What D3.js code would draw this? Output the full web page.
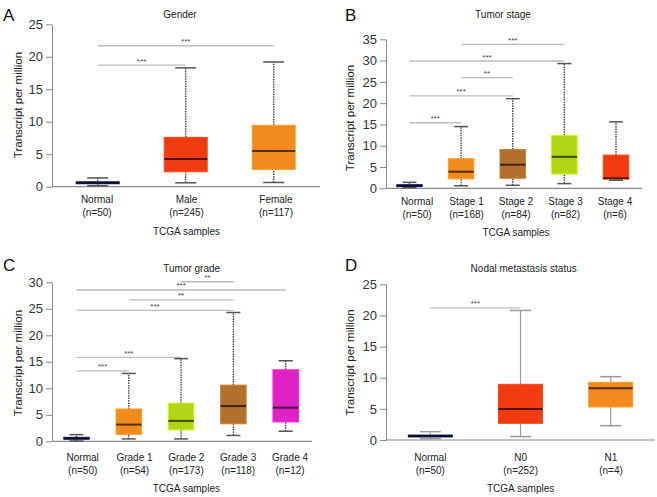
<!DOCTYPE html>
<html>
<head>
<meta charset="utf-8">
<script src="https://cdnjs.cloudflare.com/ajax/libs/d3/7.8.5/d3.min.js"></script>
<style>
body { margin: 0; background: #fff; }
svg { display: block; font-family: "Liberation Sans", Arial, sans-serif; }
</style>
</head>
<body>
<script>
// values: [min, q1, median, q3, max] per group
var genderGroups = ["Normal", "Male", "Female"];
var genderN = [50, 245, 117];
var genderStats = [[0.15, 0.45, 0.6, 0.75, 1.35], [0.6, 2.3, 4.25, 7.6, 18.3], [0.65, 2.65, 5.5, 9.45, 19.2]];
var genderSig = [[0, 2, 21.7, "***"], [0, 1, 18.7, "***"]];
var genderTicks = [0, 5, 10, 15, 20, 25];

var stageGroups = ["Normal", "Stage 1", "Stage 2", "Stage 3", "Stage 4"];
var stageN = [50, 168, 84, 82, 6];
var stageStats = [[0.15, 0.4, 0.6, 0.85, 1.4], [0.6, 2.2, 3.9, 6.95, 14.5], [0.7, 2.35, 5.55, 9.1, 21.05],
                  [1.1, 3.35, 7.4, 12.4, 29.3], [1.9, 2.2, 2.35, 7.8, 15.6]];
var stageSig = [[1, 3, 33.8, "***"], [0, 3, 29.9, "***"], [1, 2, 26, "**"], [0, 2, 21.7, "***"], [0, 1, 15.4, "***"]];
var stageTicks = [0, 5, 10, 15, 20, 25, 30, 35];

var gradeGroups = ["Normal", "Grade 1", "Grade 2", "Grade 3", "Grade 4"];
var gradeN = [50, 54, 173, 118, 12];
var gradeStats = [[0.06, 0.38, 0.57, 0.75, 1.26], [0.45, 1.3, 3.15, 6.1, 12.8], [0.45, 2.15, 3.85, 7.2, 15.6],
                  [1.1, 3.3, 6.65, 10.6, 24.3], [1.9, 3.65, 6.35, 13.5, 15.2]];
var gradeSig = [[2, 3, 30.1, "**"], [0, 4, 28.55, "***"], [1, 3, 26.7, "**"], [0, 3, 24.7, "***"],
                [0, 2, 15.85, "***"], [0, 1, 13.3, "***"]];
var gradeTicks = [0, 5, 10, 15, 20, 25, 30];

var nodalGroups = ["Normal", "N0", "N1"];
var nodalN = [50, 252, 4];
var nodalStats = [[0.2, 0.48, 0.64, 0.8, 1.34], [0.55, 2.68, 4.98, 8.94, 20.8], [2.3, 5.3, 8.3, 9.26, 10.17]];
var nodalSig = [[0, 1, 21.2, "***"]];
var nodalTicks = [0, 5, 10, 15, 20, 25];

// box colours
var navy = "#1c2670", red = "#f03c10", orange = "#f28a1e", brown = "#b36f2d", lime = "#b2d416", magenta = "#df22c4";
var genderColors = [navy, red, orange];
var stageColors = [navy, orange, brown, lime, red];
var gradeColors = [navy, orange, lime, brown, magenta];
var nodalColors = [navy, red, orange];

var svg = d3.select("body").append("svg")
    .attr("width", 657)
    .attr("height", 497);

var panels = [
  {letter: "A", title: "Gender", groups: genderGroups, n: genderN, stats: genderStats, sig: genderSig,
   ticks: genderTicks, colors: genderColors, dotted: true,
   left: 52, right: 320, y0: 186.7, yTop: 24.3, boxX: [97.7, 273.7], labX: [97, 276], boxW: 43, capW: 21,
   letterX: 3, letterY: 21, titleX: 180, titleY: 14, yTitleX: 18, yTitleY: 105, labY: 199.5, xTitleY: 231},
  {letter: "B", title: "Tumor stage", groups: stageGroups, n: stageN, stats: stageStats, sig: stageSig,
   ticks: stageTicks, colors: stageColors, dotted: true,
   left: 386, right: 642, y0: 188.3, yTop: 39.3, boxX: [409.5, 616], labX: [417, 615], boxW: 25.5, capW: 14,
   letterX: 345, letterY: 21, titleX: 503, titleY: 14, yTitleX: 350, yTitleY: 118, labY: 201, xTitleY: 232},
  {letter: "C", title: "Tumor grade", groups: gradeGroups, n: gradeN, stats: gradeStats, sig: gradeSig,
   ticks: gradeTicks, colors: gradeColors, dotted: true,
   left: 52, right: 312, y0: 441.3, yTop: 282.3, boxX: [76.5, 285.7], labX: [82.7, 290], boxW: 25.5, capW: 14,
   letterX: 3, letterY: 271, titleX: 191.7, titleY: 268.3, yTitleX: 17.7, yTitleY: 363, labY: 457.5, xTitleY: 488.3},
  {letter: "D", title: "Nodal metastasis status", groups: nodalGroups, n: nodalN, stats: nodalStats, sig: nodalSig,
   ticks: nodalTicks, colors: nodalColors, dotted: false,
   left: 386, right: 655, y0: 440, yTop: 284.3, boxX: [430.3, 610.7], labX: [430.3, 611], boxW: 44, capW: 21,
   letterX: 345, letterY: 271, titleX: 523.7, titleY: 268.3, yTitleX: 350.3, yTitleY: 362.5, labY: 457.5, xTitleY: 488.3}
];

panels.forEach(function(p) {
  var g = svg.append("g");
  var maxTick = p.ticks[p.ticks.length - 1];
  var y = d3.scaleLinear().domain([0, maxTick]).range([p.y0, p.yTop]);
  var x = d3.scalePoint().domain(p.groups).range(p.boxX);
  var xLab = d3.scalePoint().domain(p.groups).range(p.labX);

  // panel letter and title
  g.append("text").attr("x", p.letterX).attr("y", p.letterY)
   .style("font-size", "17px").style("fill", "#111").text(p.letter);
  g.append("text").attr("x", p.titleX).attr("y", p.titleY).attr("dy", "0.35em")
   .attr("text-anchor", "middle").style("font-size", "10px").style("fill", "#222").text(p.title);

  // y axis
  var yAxis = g.append("g").attr("transform", "translate(" + p.left + ",0)")
    .call(d3.axisLeft(y).tickValues(p.ticks).tickSize(6).tickSizeOuter(0).tickPadding(3));
  yAxis.select(".domain").attr("stroke", "#8a8a8a");
  yAxis.selectAll(".tick line").attr("stroke", "#8a8a8a");
  yAxis.selectAll(".tick text").style("font-size", "13px").style("fill", "#333")
    .style("font-family", "'Liberation Sans', Arial, sans-serif");

  // x axis baseline
  g.append("line").attr("x1", p.left).attr("x2", p.right).attr("y1", p.y0).attr("y2", p.y0)
   .attr("stroke", "#8a8a8a").attr("stroke-width", 1.2);

  g.append("text")
   .attr("transform", "translate(" + p.yTitleX + "," + p.yTitleY + ") rotate(-90)")
   .attr("dy", "0.35em").attr("text-anchor", "middle")
   .style("font-size", "11.5px").style("fill", "#222").text("Transcript per million");

  // category labels
  p.groups.forEach(function(name, i) {
    g.append("text").attr("x", xLab(name)).attr("y", p.labY).attr("dy", "0.35em")
     .attr("text-anchor", "middle").style("font-size", "10px").style("fill", "#222").text(name);
    g.append("text").attr("x", xLab(name)).attr("y", p.labY + 13).attr("dy", "0.35em")
     .attr("text-anchor", "middle").style("font-size", "10px").style("fill", "#222").text("(n=" + p.n[i] + ")");
  });
  g.append("text").attr("x", (p.labX[0] + p.labX[1]) / 2).attr("y", p.xTitleY).attr("dy", "0.35em")
   .attr("text-anchor", "middle").style("font-size", "10px").style("fill", "#222").text("TCGA samples");

  // significance bars
  p.sig.forEach(function(s) {
    var x1 = x(p.groups[s[0]]), x2 = x(p.groups[s[1]]);
    g.append("line").attr("x1", x1).attr("x2", x2).attr("y1", y(s[2])).attr("y2", y(s[2]))
     .attr("stroke", "#bdbdbd").attr("stroke-width", 1.3);
    g.append("text").attr("x", (x1 + x2) / 2).attr("y", y(s[2]) - 1.5)
     .attr("text-anchor", "middle").style("font-size", "8px").style("fill", "#444").text(s[3]);
  });

  // boxes
  p.groups.forEach(function(name, i) {
    var st = p.stats[i];
    var cx = x(name);
    var wStroke = p.dotted ? "#444" : "#9a9a9a";
    var capStroke = p.dotted ? "#555" : "#9a9a9a";

    [[st[3], st[4]], [st[0], st[1]]].forEach(function(seg) {
      g.append("line").attr("x1", cx).attr("x2", cx).attr("y1", y(seg[0])).attr("y2", y(seg[1]))
       .attr("stroke", wStroke).attr("stroke-width", p.dotted ? 1.4 : 1.2)
       .attr("stroke-dasharray", p.dotted ? "1.5,1" : null);
    });
    [st[0], st[4]].forEach(function(v) {
      g.append("line").attr("x1", cx - p.capW / 2).attr("x2", cx + p.capW / 2).attr("y1", y(v)).attr("y2", y(v))
       .attr("stroke", capStroke).attr("stroke-width", 1.5);
    });

    var c = p.colors[i];
    g.append("rect").attr("x", cx - p.boxW / 2).attr("width", p.boxW)
     .attr("y", y(st[3])).attr("height", Math.max(1, y(st[1]) - y(st[3])))
     .attr("fill", c).attr("stroke", d3.color(c).brighter(0.4)).attr("stroke-width", 1);
    g.append("line").attr("x1", cx - p.boxW / 2).attr("x2", cx + p.boxW / 2)
     .attr("y1", y(st[2])).attr("y2", y(st[2]))
     .attr("stroke", d3.color(c).darker(3)).attr("stroke-width", 2);
  });
});
</script>
</body>
</html>
